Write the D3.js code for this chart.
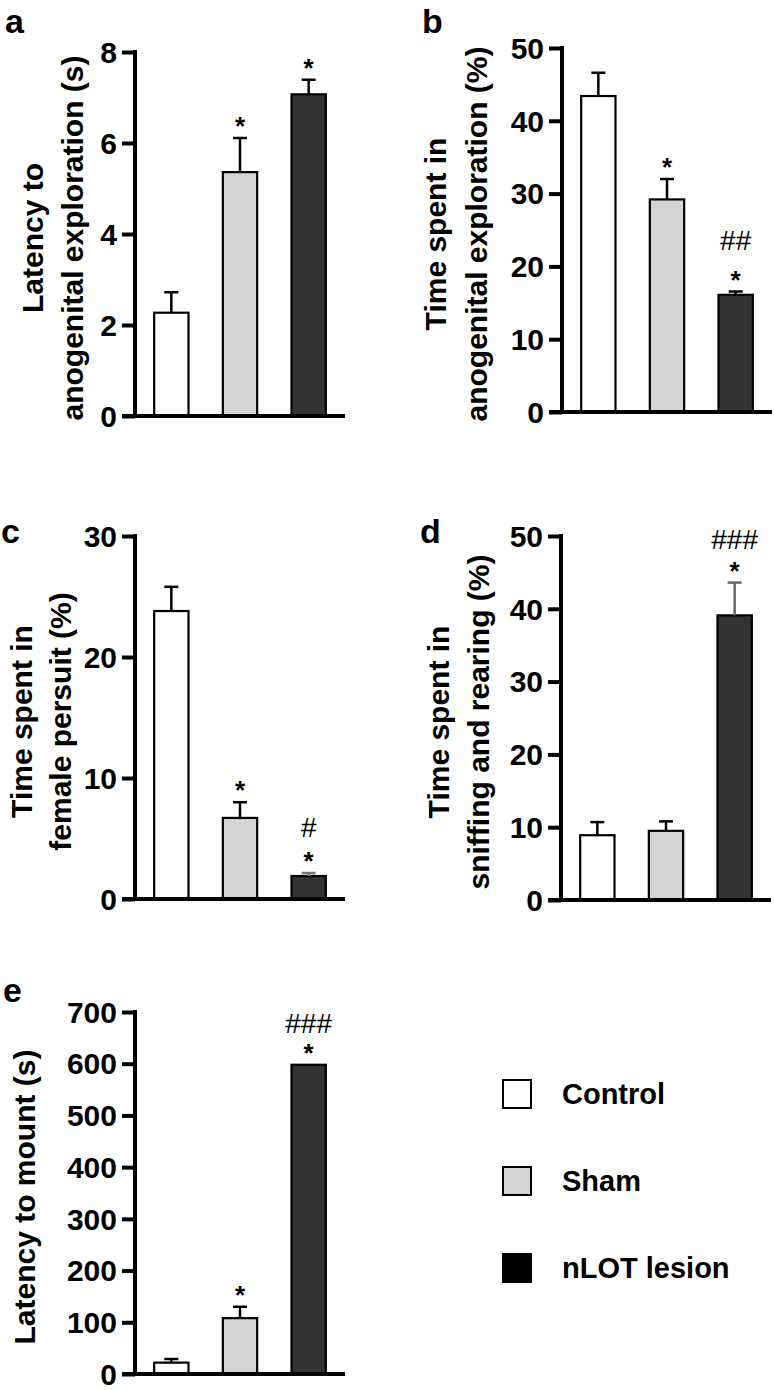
<!DOCTYPE html>
<html>
<head>
<meta charset="utf-8">
<script src="https://cdn.jsdelivr.net/npm/d3@7"></script>
<style>
  html, body { margin: 0; padding: 0; background: #fff; }
  svg text { font-family: "Liberation Sans", Arial, sans-serif; }
</style>
</head>
<body>
<svg id="chart" width="774" height="1390"></svg>
<script>
// ---------------- DATA ----------------
const groups = ["Control", "Sham", "nLOT lesion"];

const aMeans = [2.27, 5.36, 7.07];
const aSem   = [0.45, 0.75, 0.32];
const aTicks = [0, 2, 4, 6, 8];
const aStars = ["", "*", "*"];
const aHash  = ["", "", ""];

const bMeans = [43.4, 29.2, 16.1];
const bSem   = [3.2, 2.8, 0.45];
const bTicks = [0, 10, 20, 30, 40, 50];
const bStars = ["", "*", "*"];
const bHash  = ["", "", "##"];

const cMeans = [23.8, 6.7, 1.9];
const cSem   = [2.0, 1.3, 0.25];
const cTicks = [0, 10, 20, 30];
const cStars = ["", "*", "*"];
const cHash  = ["", "", "#"];

const dMeans = [8.9, 9.5, 39.1];
const dSem   = [1.8, 1.3, 4.5];
const dTicks = [0, 10, 20, 30, 40, 50];
const dStars = ["", "", "*"];
const dHash  = ["", "", "###"];

const eMeans = [22, 108, 598];
const eSem   = [7, 22, 0];
const eTicks = [0, 100, 200, 300, 400, 500, 600, 700];
const eStars = ["", "*", "*"];
const eHash  = ["", "", "###"];

const barFills  = ["#ffffff", "#d4d4d4", "#333333"];
const legendFills = ["#ffffff", "#d4d4d4", "#000000"];

// ---------------- LAYOUT ----------------
const svg = d3.select("#chart");

const panels = [
  { letter: "a", lx: 5, ly: 33, axisX: 135, yBottom: 416, yTop: 52, max: 8,
    means: aMeans, sems: aSem, ticks: aTicks, stars: aStars, hash: aHash,
    label: ["Latency to", "anogenital exploration (s)"], labelX: [43, 83],
    errColors: ["#000", "#000", "#000"], hashOff: 31 },
  { letter: "b", lx: 422, ly: 33, axisX: 562, yBottom: 412, yTop: 48, max: 50,
    means: bMeans, sems: bSem, ticks: bTicks, stars: bStars, hash: bHash,
    label: ["Time spent in", "anogenital exploration (%)"], labelX: [446, 487],
    errColors: ["#000", "#000", "#000"], hashOff: 36 },
  { letter: "c", lx: 1, ly: 543, axisX: 135, yBottom: 899, yTop: 536, max: 30,
    means: cMeans, sems: cSem, ticks: cTicks, stars: cStars, hash: cHash,
    label: ["Time spent in", "female persuit (%)"], labelX: [32, 71],
    errColors: ["#000", "#000", "#777"], hashOff: 30 },
  { letter: "d", lx: 420, ly: 543, axisX: 561, yBottom: 900, yTop: 536, max: 50,
    means: dMeans, sems: dSem, ticks: dTicks, stars: dStars, hash: dHash,
    label: ["Time spent in", "sniffing and rearing (%)"], labelX: [449, 489],
    errColors: ["#000", "#000", "#666"], hashOff: 28 },
  { letter: "e", lx: 3, ly: 1002, axisX: 135, yBottom: 1374, yTop: 1012, max: 700,
    means: eMeans, sems: eSem, ticks: eTicks, stars: eStars, hash: eHash,
    label: ["Latency to mount (s)"], labelX: [35],
    errColors: ["#000", "#000", "#000"], hashOff: 26 }
];

const tickLen = 13;

panels.forEach(p => {
  const g = svg.append("g");
  const y = d3.scaleLinear().domain([0, p.max]).range([p.yBottom, p.yTop]);
  const x = d3.scaleBand().domain(groups)
    .range([p.axisX + 2, p.axisX + 208])
    .paddingInner(0.5).paddingOuter(0.25);

  // bars
  g.selectAll("rect.bar").data(groups).enter().append("rect")
    .attr("x", d => x(d))
    .attr("width", x.bandwidth())
    .attr("y", (d, i) => y(p.means[i]))
    .attr("height", (d, i) => y(0) - y(p.means[i]))
    .attr("fill", (d, i) => barFills[i])
    .attr("stroke", "#000")
    .attr("stroke-width", 2.2);

  // error bars
  groups.forEach((d, i) => {
    if (p.sems[i] <= 0) return;
    const cx = x(d) + x.bandwidth() / 2;
    const yt = y(p.means[i] + p.sems[i]);
    const yb = y(p.means[i]);
    g.append("line").attr("x1", cx).attr("x2", cx).attr("y1", yb).attr("y2", yt)
      .attr("stroke", p.errColors[i]).attr("stroke-width", 2.5);
    g.append("line").attr("x1", cx - 7).attr("x2", cx + 7).attr("y1", yt).attr("y2", yt)
      .attr("stroke", p.errColors[i]).attr("stroke-width", 2.5);
  });

  // significance marks
  groups.forEach((d, i) => {
    const cx = x(d) + x.bandwidth() / 2;
    const top = y(p.means[i] + p.sems[i]);
    const starC = top - 16;
    if (p.stars[i]) {
      g.append("text").attr("x", cx).attr("y", starC + 13)
        .attr("text-anchor", "middle")
        .attr("font-size", 26).attr("font-weight", "bold")
        .text(p.stars[i]);
    }
    if (p.hash[i]) {
      g.append("text").attr("x", cx).attr("y", starC - p.hashOff + 10)
        .attr("text-anchor", "middle")
        .attr("font-size", 28).attr("font-weight", "normal")
        .text(p.hash[i]);
    }
  });

  // y axis
  const yAxis = d3.axisLeft(y).tickValues(p.ticks).tickSize(tickLen).tickPadding(5)
    .tickFormat(d3.format("d"));
  const ag = g.append("g").attr("transform", `translate(${p.axisX},0)`).call(yAxis);
  ag.select(".domain").remove();
  ag.selectAll(".tick line").attr("stroke", "#000").attr("stroke-width", 4);
  ag.selectAll(".tick text").attr("font-size", 30).attr("font-weight", "bold")
    .attr("fill", "#000").attr("dy", "0.34em")
    .style("font-family", '"Liberation Sans", Arial, sans-serif');
  // vertical axis line
  g.append("line").attr("x1", p.axisX).attr("x2", p.axisX)
    .attr("y1", p.yTop - 2).attr("y2", p.yBottom + 2)
    .attr("stroke", "#000").attr("stroke-width", 4);
  // x axis baseline
  g.append("line").attr("x1", p.axisX - tickLen).attr("x2", p.axisX + 210)
    .attr("y1", p.yBottom).attr("y2", p.yBottom)
    .attr("stroke", "#000").attr("stroke-width", 4);

  // y label
  const cy = (p.yTop + p.yBottom) / 2 + 4;
  p.label.forEach((t, k) => {
    g.append("text")
      .attr("transform", `translate(${p.labelX[k]},${cy}) rotate(-90)`)
      .attr("text-anchor", "middle")
      .attr("font-size", 30).attr("font-weight", "bold")
      .text(t);
  });

  // panel letter
  g.append("text").attr("x", p.lx).attr("y", p.ly)
    .attr("font-size", 34).attr("font-weight", "bold")
    .text(p.letter);
});

// ---------------- LEGEND ----------------
const legY = d3.scalePoint().domain(groups).range([1094, 1268]);
const leg = svg.append("g");
groups.forEach((gname, i) => {
  const cy = legY(gname);
  leg.append("rect").attr("x", 503).attr("y", cy - 14).attr("width", 28).attr("height", 28)
    .attr("fill", legendFills[i]).attr("stroke", "#000").attr("stroke-width", 2);
  leg.append("text").attr("x", 562).attr("y", cy + 10)
    .attr("font-size", 29).attr("font-weight", "bold").text(gname);
});
</script>
</body>
</html>
